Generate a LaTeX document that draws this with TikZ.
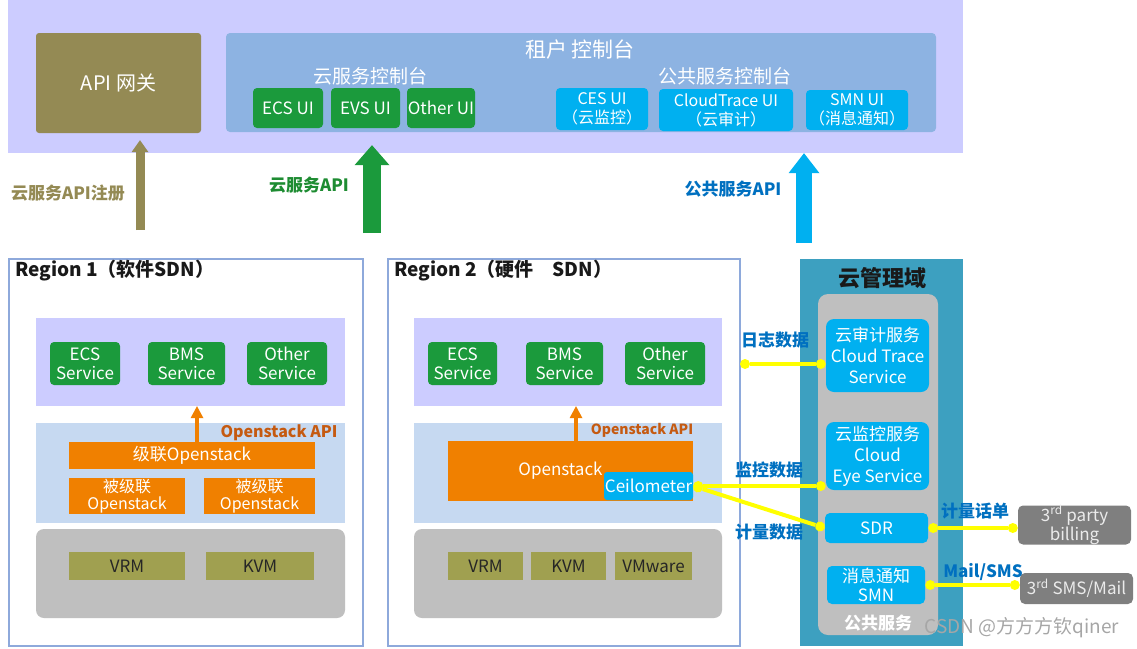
\documentclass[tikz,border=0pt]{standalone}
\usepackage{fontspec}
\setmainfont{Noto Sans CJK SC}
\usetikzlibrary{arrows.meta}
\definecolor{tenantbg}{HTML}{CCCCFF}
\definecolor{gwolive}{HTML}{948A54}
\definecolor{consolebg}{HTML}{8DB3E2}
\definecolor{svcgreen}{HTML}{1B9A3C}
\definecolor{lblgreen}{HTML}{1E8C32}
\definecolor{pubcyan}{HTML}{00B0F0}
\definecolor{regborder}{HTML}{8EA9DB}
\definecolor{stackbg}{HTML}{C6D9F1}
\definecolor{hwgray}{HTML}{BFBFBF}
\definecolor{hvolive}{HTML}{A0A050}
\definecolor{osorange}{HTML}{F08000}
\definecolor{apiorange}{HTML}{C55A11}
\definecolor{mgmtteal}{HTML}{3DA0C0}
\definecolor{extgray}{HTML}{7F7F7F}
\definecolor{lblblue}{HTML}{0070C0}
\definecolor{linkyellow}{HTML}{FFFF00}

\begin{document}
\begin{tikzpicture}
    [ x=1pt, y=-1pt
    , every node/.style={inner sep=0pt}
    , sz/.style 2 args={minimum width=#1, minimum height=#2}
    , box/.style={rounded corners=4pt, align=center, text=white, font=\fontsize{17}{19}\selectfont}
    , uibox/.style={box, fill=svcgreen}
    , pubbox/.style={box, fill=pubcyan, font=\fontsize{16}{19}\selectfont}
    , osbox/.style={box, fill=osorange, rounded corners=0pt, font=\fontsize{16}{17}\selectfont}
    , hvbox/.style={box, fill=hvolive, rounded corners=0pt, text=black!85}
    , mgbox/.style={box, fill=pubcyan, rounded corners=8pt, font=\fontsize{17}{21}\selectfont}
    , extbox/.style={box, fill=extgray, rounded corners=5pt, text=white!92!black}
    , region/.style={draw=regborder, line width=1.2pt, fill=white}
    , regtitle/.style={anchor=west, font=\fontsize{19}{21}\selectfont\bfseries, text=black!90}
    , lbl/.style={font=\fontsize{17}{19}\selectfont\bfseries}
    , bigarrow/.style={line width=18pt, -{Triangle[width=35pt,length=20pt,line width=0pt]}}
    , uparrow/.style={draw=osorange, line width=4pt, -{Triangle[width=13pt,length=12pt,line width=0pt]}}
    , link/.style={draw=linkyellow, line width=4pt, {Circle[length=10pt,line width=0pt]}-{Circle[length=10pt,line width=0pt]}}
    ]
\useasboundingbox (0,0) rectangle (1137,648);
\node[fill=tenantbg, sz={955}{153}] (tenant) at (485.5,76.5) {};
\node[box, fill=gwolive, rounded corners=3pt, sz={165}{100}, font=\fontsize{20}{22}\selectfont] (gw) at (118.5,83) {API 网关};
\node[fill=consolebg, rounded corners=4pt, sz={710}{99}] (console) at (581,82.5) {};
\node[text=white, font=\fontsize{21}{23}\selectfont] (contitle) at (580,50) {租户 控制台};
\node[text=white, font=\fontsize{19}{21}\selectfont] (svccon) at (370,76) {云服务控制台};
\node[text=white, font=\fontsize{19}{21}\selectfont] (pubcon) at (725,76) {公共服务控制台};
\node[uibox, sz={70}{40}] (ecsui) at (288,108) {ECS UI};
\node[uibox, sz={69}{40}] (evsui) at (365.5,108) {EVS UI};
\node[uibox, sz={68}{40}] (otherui) at (441,108) {Other UI};
\node[pubbox, sz={92}{42}] (cesui) at (602,109) {CES UI\\（云监控）};
\node[pubbox, sz={134}{42}] (ctsui) at (726,110) {CloudTrace UI\\（云审计）};
\node[pubbox, sz={102}{40}] (smnui) at (857,110) {SMN UI\\（消息通知）};

\coordinate (regapi) at (140,230);
\coordinate (svcapi) at (372,233);
\coordinate (pubapi) at (804,243);
\draw[draw=gwolive, line width=9pt, -{Triangle[width=17pt,length=12pt,line width=0pt]}, shorten >=7pt] (regapi) -- (regapi |- gw.south);
\draw[bigarrow, svcgreen, shorten >=-8pt] (svcapi) -- (svcapi |- tenant.south);
\draw[pubcyan, line width=16pt, -{Triangle[width=31pt,length=20pt,line width=0pt]}] (pubapi) -- (pubapi |- tenant.south);
\node[lbl, text=gwolive] (reglbl) at (68,193) {云服务API注册};
\node[lbl, text=lblgreen] (svclbl) at (309,185) {云服务API};
\node[lbl, text=lblblue] (publbl) at (733,189) {公共服务API};

\node[region, sz={354}{387}] (reg1) at (186,452.5) {};
\node[regtitle] (reg1title) at (15,271) {Region 1（软件SDN）};
\node[fill=tenantbg, sz={309}{88}] (svc1) at (190.5,362) {};
\node[uibox, sz={70}{43}] (ecs1) at (85,363.5) {ECS\\Service};
\node[uibox, sz={77}{43}] (bms1) at (186.5,363.5) {BMS\\Service};
\node[uibox, sz={80}{43}] (oth1) at (287,363.5) {Other\\Service};
\node[fill=stackbg, sz={309}{100}] (stack1) at (190.5,473) {};
\node[osbox, sz={246}{27}, font=\fontsize{17}{19}\selectfont] (cas1) at (192,455.5) {级联Openstack};
\node[osbox, sz={116}{36}] (sub1a) at (127,496) {被级联\\Openstack};
\node[osbox, sz={111}{36}] (sub1b) at (259.5,496) {被级联\\Openstack};
\node[lbl, text=apiorange, font=\fontsize{16}{18}\selectfont\bfseries] (api1) at (279,433) {Openstack API};
\draw[uparrow] ([xshift=5pt]cas1.north) -- ([xshift=5pt]cas1.north |- svc1.south);
\node[fill=hwgray, rounded corners=8pt, sz={309}{89}] (hw1) at (190.5,573.5) {};
\node[hvbox, sz={116}{28}] (vrm1) at (127,566) {VRM};
\node[hvbox, sz={108}{28}] (kvm1) at (260,566) {KVM};

\node[region, sz={352}{387}] (reg2) at (564,452.5) {};
\node[regtitle] (reg2title) at (394,271) {Region 2（硬件　SDN）};
\node[fill=tenantbg, sz={308}{88}] (svc2) at (568,362) {};
\node[uibox, sz={69}{43}] (ecs2) at (462.5,363.5) {ECS\\Service};
\node[uibox, sz={77}{43}] (bms2) at (564.5,363.5) {BMS\\Service};
\node[uibox, sz={80}{43}] (oth2) at (665,363.5) {Other\\Service};
\node[fill=stackbg, sz={308}{100}] (stack2) at (568,473) {};
\node[osbox, sz={245}{60}, label={[text=white, font=\fontsize{17}{19}\selectfont, xshift=-10pt]center:Openstack}] (os2) at (570.5,471) {};
\node[box, fill=pubcyan, rounded corners=3pt, sz={89}{28}] (ceil) at (648.5,486) {Ceilometer};
\node[lbl, text=apiorange, font=\fontsize{14}{16}\selectfont\bfseries] (api2) at (642,430) {Openstack API};
\draw[uparrow] ([xshift=5.5pt]os2.north) -- ([xshift=5.5pt]os2.north |- svc2.south);
\node[fill=hwgray, rounded corners=8pt, sz={308}{89}] (hw2) at (568,573.5) {};
\node[hvbox, sz={75}{28}] (vrm2) at (485.5,566) {VRM};
\node[hvbox, sz={75}{28}] (kvm2) at (568.5,566) {KVM};
\node[hvbox, sz={77}{28}] (vmw2) at (653.5,566) {VMware};

\node[fill=mgmtteal, sz={163}{387}] (mgmt) at (881.5,452.5) {};
\node[text=black!90, font=\fontsize{22}{24}\selectfont\bfseries] (mgmttitle) at (882,278) {云管理域};
\node[fill=hwgray, rounded corners=10pt, sz={120}{341}] (pubsvc) at (878,464.5) {};
\node[mgbox, sz={103}{73}] (cts) at (877.5,355.5) {云审计服务\\Cloud Trace\\Service};
\node[mgbox, sz={103}{68}] (ces) at (877.5,456) {云监控服务\\Cloud\\Eye Service};
\node[mgbox, rounded corners=5pt, sz={103}{30}] (sdr) at (876.5,528) {SDR};
\node[mgbox, rounded corners=5pt, sz={98}{38}, font=\fontsize{17}{19}\selectfont] (smn) at (876,585) {消息通知\\SMN};
\node[lbl, text=white] (pubsvctitle) at (878,623) {公共服务};
\node[extbox, sz={113}{38}] (billing) at (1074.5,525) {3\textsuperscript{rd} party\\billing};
\node[extbox, sz={113}{31}] (smsmail) at (1076.5,588.5) {3\textsuperscript{rd} SMS/Mail};

\coordinate (logpt) at (740,364);
\draw[link] (logpt) -- (cts.west |- logpt);
\draw[link] (ceil.east) -- (ces.west |- ceil.east);
\draw[link] (ceil.east) -- (sdr.west);
\draw[link] (sdr.east) -- (sdr.east -| billing.west);
\draw[link] (smn.east) -- (smn.east -| smsmail.west);
\node[lbl, text=lblblue] (loglbl) at (775,340) {日志数据};
\node[lbl, text=lblblue] (monlbl) at (769,470) {监控数据};
\node[lbl, text=lblblue] (meterlbl) at (769,532) {计量数据};
\node[lbl, text=lblblue] (cdrlbl) at (975,511) {计量话单};
\node[lbl, text=lblblue] (maillbl) at (983,572) {Mail/SMS};

\node[text=black!35, font=\fontsize{19}{21}\selectfont] (mark) at (1022,628) {CSDN @方方方钦qiner};
\end{tikzpicture}
\end{document}
